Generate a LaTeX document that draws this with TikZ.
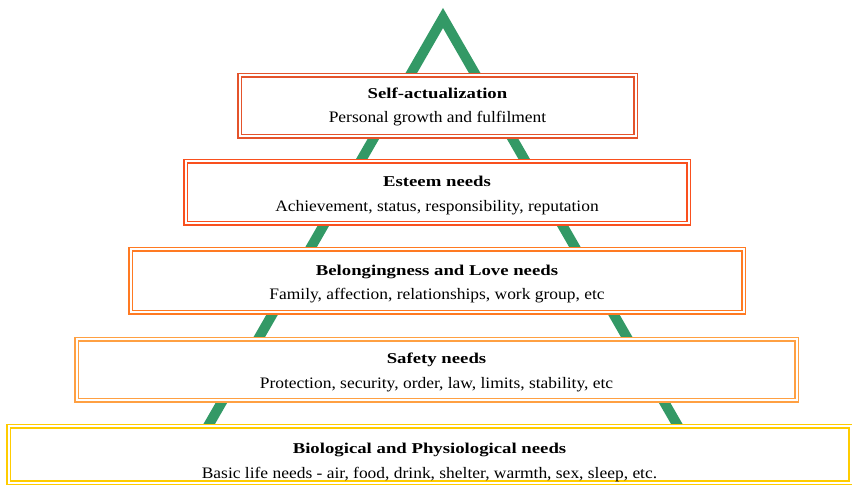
\documentclass[tikz,border=0pt]{standalone}
\usepackage{fontspec}
\setmainfont{Liberation Serif}
\newfontfamily\subfont{Liberation Serif}[FakeStretch=1.09]
\newfontfamily\ttlfont{Liberation Serif}[FakeStretch=1.25]
\definecolor{grn}{HTML}{339966}
\definecolor{cself}{HTML}{E4532B}
\definecolor{cesteem}{HTML}{F9501E}
\definecolor{cbelong}{HTML}{FF7A22}
\definecolor{csafety}{HTML}{FFA042}
\definecolor{cbio}{HTML}{FFCC00}
\tikzset{
  needbox/.style={draw=#1, double=white, double distance=2pt, line width=1.5pt,
    fill=white, align=center, inner sep=0pt},
  ttl/.style={font=\ttlfont\bfseries\fontsize{15}{17}\selectfont},
  sub/.style={font=\subfont\fontsize{16}{18}\selectfont},
}
\begin{document}
\begin{tikzpicture}[x=1pt,y=-1pt]
\clip (0,0) rectangle (852,486);
\fill[white] (0,0) rectangle (852,486);
% pyramid
\coordinate (apex) at (443,18);
\coordinate (bl) at (200,440);
\coordinate (br) at (686,440);
\draw[grn, line width=10pt, miter limit=10] (bl) -- (apex) -- (br);
% boxes
\node[needbox=cself, minimum width=396pt, minimum height=61pt] (self) at (437.5,106) {};
\node[needbox=cesteem, minimum width=503pt, minimum height=62pt] (esteem) at (437,192.5) {};
\node[needbox=cbelong, minimum width=613pt, minimum height=63pt] (belong) at (437,281) {};
\node[needbox=csafety, minimum width=720pt, minimum height=61pt] (safety) at (436.5,370) {};
\node[needbox=cbio, minimum width=842pt, minimum height=56pt] (bio) at (429.5,454.5) {};
% texts
\node[ttl] (selft) at ([yshift=13pt]self.center) {Self-actualization};
\node[sub] (selfs) at ([yshift=-13pt]self.center) {Personal growth and fulfilment};
\node[ttl] (esteemt) at ([yshift=11.5pt]esteem.center) {Esteem needs};
\node[sub] (esteems) at ([yshift=-15.5pt]esteem.center) {Achievement, status, responsibility, reputation};
\node[ttl] (belongt) at ([yshift=9pt]belong.center) {Belongingness and Love needs};
\node[sub] (belongs) at ([yshift=-15pt]belong.center) {Family, affection, relationships, work group, etc};
\node[ttl] (safetyt) at ([yshift=10pt]safety.center) {Safety needs};
\node[sub] (safetys) at ([yshift=-15pt]safety.center) {Protection, security, order, law, limits, stability, etc};
\node[ttl] (biot) at ([yshift=4.5pt]bio.center) {Biological and Physiological needs};
\node[sub] (bios) at ([yshift=-20.5pt]bio.center) {Basic life needs - air, food, drink, shelter, warmth, sex, sleep, etc.};
\end{tikzpicture}
\end{document}
